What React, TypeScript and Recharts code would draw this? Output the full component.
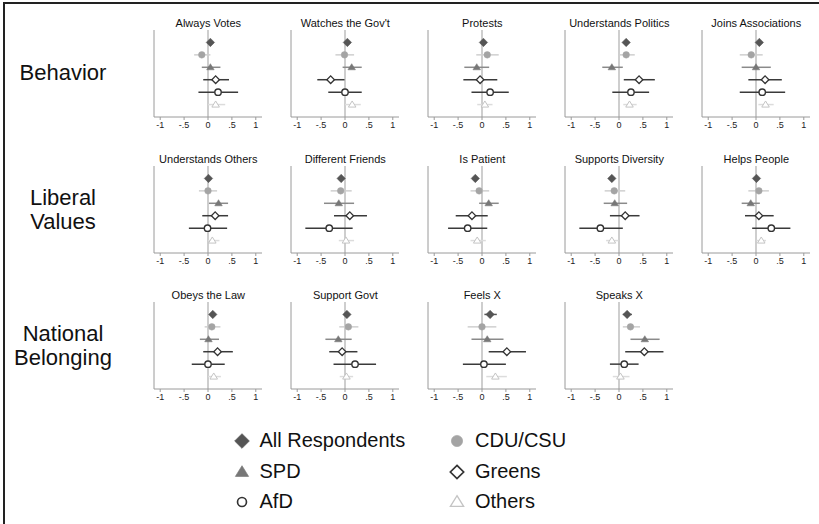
import { CartesianGrid, ErrorBar, Scatter, ScatterChart, XAxis, YAxis } from "recharts";

const FONT = '"Liberation Sans", Arial, Helvetica, sans-serif';

const ROW_LABELS = [["Behavior"], ["Liberal", "Values"], ["National", "Belonging"]];

const PANEL_TITLES = [
  ["Always Votes", "Watches the Gov't", "Protests", "Understands Politics", "Joins Associations"],
  ["Understands Others", "Different Friends", "Is Patient", "Supports Diversity", "Helps People"],
  ["Obeys the Law", "Support Govt", "Feels X", "Speaks X"],
];

const GROUPS = ["All Respondents", "CDU/CSU", "SPD", "Greens", "AfD", "Others"];

const X_TICKS = [-1, -0.5, 0, 0.5, 1];
const X_TICK_LABELS = ["-1", "-.5", "0", ".5", "1"];

// point estimates and 95% bounds, one value per panel (row by row, left to right)
const ALL_EST = [0.05, 0.05, 0.03, 0.15, 0.07, 0.01, -0.08, -0.14, -0.15, 0.01, 0.1, 0.04, 0.17, 0.17];
const ALL_LO = [0.0, 0.0, -0.02, 0.1, 0.02, -0.04, -0.13, -0.19, -0.2, -0.04, 0.05, -0.01, 0.05, 0.08];
const ALL_HI = [0.1, 0.1, 0.08, 0.2, 0.12, 0.06, -0.03, -0.09, -0.1, 0.06, 0.15, 0.09, 0.31, 0.27];

const CDU_EST = [-0.13, -0.01, 0.11, 0.15, -0.1, 0.0, -0.09, -0.06, -0.1, 0.06, 0.08, 0.07, 0.0, 0.24];
const CDU_LO = [-0.29, -0.2, -0.12, 0.0, -0.34, -0.19, -0.3, -0.24, -0.3, -0.16, -0.07, -0.12, -0.3, 0.08];
const CDU_HI = [0.05, 0.19, 0.35, 0.33, 0.14, 0.19, 0.14, 0.15, 0.13, 0.27, 0.26, 0.28, 0.3, 0.44];

const SPD_EST = [0.05, 0.14, -0.11, -0.15, 0.0, 0.22, -0.13, 0.14, -0.09, -0.11, 0.01, -0.14, 0.11, 0.54];
const SPD_LO = [-0.13, -0.05, -0.37, -0.35, -0.3, 0.02, -0.44, -0.06, -0.32, -0.3, -0.17, -0.41, -0.22, 0.24];
const SPD_HI = [0.26, 0.35, 0.15, 0.08, 0.31, 0.42, 0.19, 0.35, 0.17, 0.08, 0.23, 0.14, 0.45, 0.85];

const GREENS_EST = [0.16, -0.3, -0.04, 0.42, 0.19, 0.15, 0.1, -0.21, 0.13, 0.06, 0.2, -0.06, 0.52, 0.53];
const GREENS_LO = [-0.1, -0.58, -0.39, 0.1, -0.16, -0.12, -0.23, -0.55, -0.19, -0.23, -0.1, -0.33, 0.14, 0.13];
const GREENS_HI = [0.44, -0.01, 0.32, 0.75, 0.54, 0.42, 0.46, 0.12, 0.43, 0.37, 0.52, 0.26, 0.92, 0.93];

const AFD_EST = [0.21, 0.0, 0.17, 0.25, 0.13, -0.01, -0.33, -0.3, -0.39, 0.32, 0.0, 0.21, 0.04, 0.11];
const AFD_LO = [-0.2, -0.35, -0.22, -0.14, -0.34, -0.4, -0.83, -0.71, -0.83, -0.08, -0.34, -0.24, -0.4, -0.19];
const AFD_HI = [0.63, 0.35, 0.56, 0.63, 0.61, 0.4, 0.16, 0.11, 0.08, 0.72, 0.35, 0.65, 0.5, 0.41];

const OTHERS_EST = [0.16, 0.15, 0.06, 0.22, 0.2, 0.09, 0.02, -0.1, -0.15, 0.11, 0.12, 0.03, 0.28, 0.03];
const OTHERS_LO = [0.0, 0.0, -0.1, 0.09, 0.05, 0.0, -0.13, -0.24, -0.27, 0.01, 0.0, -0.11, 0.09, -0.13];
const OTHERS_HI = [0.36, 0.33, 0.22, 0.37, 0.37, 0.24, 0.19, 0.08, -0.01, 0.21, 0.27, 0.17, 0.52, 0.22];

const EST = [ALL_EST, CDU_EST, SPD_EST, GREENS_EST, AFD_EST, OTHERS_EST];
const LO = [ALL_LO, CDU_LO, SPD_LO, GREENS_LO, AFD_LO, OTHERS_LO];
const HI = [ALL_HI, CDU_HI, SPD_HI, GREENS_HI, AFD_HI, OTHERS_HI];

type Kind = "diamond" | "circle" | "triangle";
interface GroupStyle {
  kind: Kind;
  fill: string;
  stroke: string;
  strokeWidth: number;
  size: number;
  bar: string;
}

const STYLES: GroupStyle[] = [
  { kind: "diamond", fill: "#555", stroke: "#555", strokeWidth: 0.5, size: 4.2, bar: "#555" },
  { kind: "circle", fill: "#a4a4a4", stroke: "#a4a4a4", strokeWidth: 0.5, size: 3.3, bar: "#cfcfcf" },
  { kind: "triangle", fill: "#777", stroke: "#777", strokeWidth: 0.5, size: 3.6, bar: "#8a8a8a" },
  { kind: "diamond", fill: "#fff", stroke: "#333", strokeWidth: 1.3, size: 3.8, bar: "#3a3a3a" },
  { kind: "circle", fill: "#fff", stroke: "#333", strokeWidth: 1.4, size: 3.2, bar: "#3a3a3a" },
  { kind: "triangle", fill: "#fff", stroke: "#c4c4c4", strokeWidth: 1, size: 3.6, bar: "#dcdcdc" },
];

function Marker({ cx, cy, style, scale = 1 }: { cx: number; cy: number; style: GroupStyle; scale?: number }) {
  const s = style.size * scale;
  const common = { fill: style.fill, stroke: style.stroke, strokeWidth: style.strokeWidth * Math.sqrt(scale) };
  if (style.kind === "circle") return <circle cx={cx} cy={cy} r={s} {...common} />;
  if (style.kind === "diamond")
    return <path d={`M${cx},${cy - s}L${cx + s},${cy}L${cx},${cy + s}L${cx - s},${cy}Z`} {...common} />;
  return (
    <path d={`M${cx},${cy - s}L${cx + s * 1.05},${cy + s * 0.7}L${cx - s * 1.05},${cy + s * 0.7}Z`} {...common} />
  );
}

const COL_ZERO = 208.3;
const COL_STEP = 137;
const ROW_PLOT_TOP = [29.5, 166, 302];
const PLOT_W = 108;
const PLOT_H = 87;

function Panel({ index, title, row, col }: { index: number; title: string; row: number; col: number }) {
  const left = COL_ZERO + col * COL_STEP - PLOT_W / 2 - 14;
  const top = ROW_PLOT_TOP[row] - 5;
  return (
    <div style={{ position: "absolute", left, top }}>
      <div
        style={{
          position: "absolute",
          left: 14 - 20,
          width: PLOT_W + 40,
          top: -8,
          textAlign: "center",
          fontSize: 11,
          lineHeight: "13px",
          whiteSpace: "nowrap",
          color: "#111",
        }}
      >
        {title}
      </div>
      <ScatterChart width={14 + PLOT_W + 15} height={5 + PLOT_H + 20} margin={{ top: 5, right: 15, bottom: 0, left: 8 }}>
        <CartesianGrid horizontal={false} verticalValues={[0]} stroke="#b4b4b4" strokeWidth={1.3} />
        <XAxis
          type="number"
          dataKey="x"
          domain={[-1.13, 1.13]}
          allowDataOverflow
          ticks={X_TICKS}
          interval={0}
          tickFormatter={(v: number) => X_TICK_LABELS[X_TICKS.indexOf(v)]}
          height={20}
          tickSize={3}
          tickMargin={2}
          stroke="#9a9a9a"
          tick={{ fill: "#222", fontSize: 9, fontFamily: FONT }}
        />
        <YAxis
          type="number"
          dataKey="y"
          domain={[0, 7]}
          reversed
          allowDataOverflow
          ticks={[3.5]}
          width={6}
          tickSize={3}
          tick={false}
          stroke="#9a9a9a"
        />
        {GROUPS.map((name, g) => {
          const est = EST[g][index];
          const data = [{ x: est, y: g + 1, err: [est - LO[g][index], HI[g][index] - est] }];
          return (
            <Scatter
              key={name}
              name={name}
              data={data}
              isAnimationActive={false}
              shape={(p: any) => <Marker cx={p.cx} cy={p.cy} style={STYLES[g]} />}
            >
              <ErrorBar dataKey="err" direction="x" width={0} stroke={STYLES[g].bar} strokeWidth={1.5} />
            </Scatter>
          );
        })}
      </ScatterChart>
    </div>
  );
}

const LEGEND_X = [241.5, 457];
const LEGEND_Y = [440.7, 471.5, 501.7];

export default function App() {
  return (
    <div
      style={{
        position: "absolute",
        left: 0,
        top: 0,
        width: 819,
        height: 524,
        background: "#fff",
        fontFamily: FONT,
        overflow: "hidden",
      }}
    >
      <div
        style={{
          position: "absolute",
          left: 3,
          top: 2,
          width: 820,
          height: 530,
          borderLeft: "2px solid #222",
          borderTop: "2px solid #222",
        }}
      />
      {ROW_LABELS.map((lines, r) => (
        <div
          key={r}
          style={{
            position: "absolute",
            left: 8,
            width: 110,
            top: ROW_PLOT_TOP[r] + PLOT_H / 2 - lines.length * 12,
            textAlign: "center",
            fontSize: 22,
            lineHeight: "24px",
            color: "#111",
          }}
        >
          {lines.map((l) => (
            <div key={l}>{l}</div>
          ))}
        </div>
      ))}
      {PANEL_TITLES.map((titles, r) =>
        titles.map((t, c) => {
          const index = PANEL_TITLES.slice(0, r).reduce((n, a) => n + a.length, 0) + c;
          return <Panel key={t} index={index} title={t} row={r} col={c} />;
        })
      )}
      {GROUPS.map((name, g) => {
        const cx = LEGEND_X[g % 2];
        const cy = LEGEND_Y[Math.floor(g / 2)];
        return (
          <div
            key={name}
            style={{
              position: "absolute",
              left: cx - 10,
              top: cy - 12,
              height: 24,
              display: "flex",
              alignItems: "center",
              whiteSpace: "nowrap",
            }}
          >
            <svg width={20} height={20}>
              <Marker cx={10} cy={10} style={STYLES[g]} scale={g === 4 ? 1.4 : g === 1 ? 1.7 : 1.75} />
            </svg>
            <span style={{ marginLeft: 8, fontSize: 20, color: "#111" }}>{name}</span>
          </div>
        );
      })}
    </div>
  );
}
